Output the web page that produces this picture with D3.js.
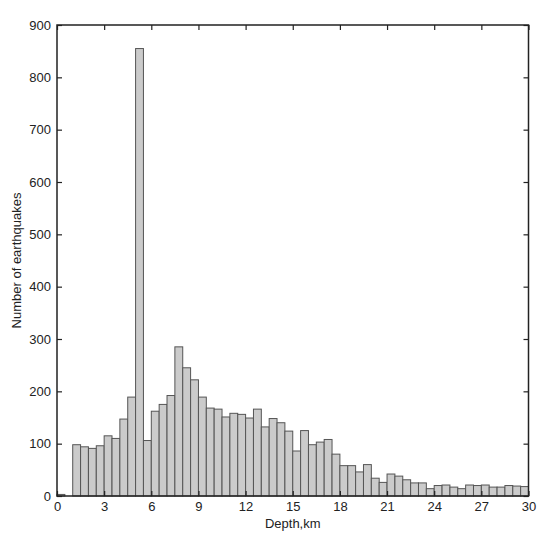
<!DOCTYPE html>
<html><head><meta charset="utf-8">
<script src="https://cdn.jsdelivr.net/npm/d3@7"></script>
<style>body{margin:0;background:#fff}svg{display:block}</style>
</head><body>
<svg id="c" width="550" height="541"></svg>
<script>
const binWidth = 0.5;
const binStarts = [0, 1.0,1.5,2.0,2.5,3.0,3.5,4.0,4.5,5.0,5.5,6.0,6.5,7.0,7.5,8.0,8.5,9.0,9.5,10.0,10.5,11.0,11.5,12.0,12.5,13.0,13.5,14.0,14.5,15.0,15.5,16.0,16.5,17.0,17.5,18.0,18.5,19.0,19.5,20.0,20.5,21.0,21.5,22.0,22.5,23.0,23.5,24.0,24.5,25.0,25.5,26.0,26.5,27.0,27.5,28.0,28.5,29.0,29.5];
const counts = [3, 98,94,91,96,115,110,147,189,855,106,162,175,192,285,245,222,189,168,166,151,158,156,149,166,132,148,140,124,86,125,98,103,108,80,58,58,46,60,34,26,42,38,31,25,25,14,20,21,17,14,21,20,21,17,17,20,19,18];
const xTicks = [0,3,6,9,12,15,18,21,24,27,30];
const yTicks = [0,100,200,300,400,500,600,700,800,900];
const xLabel = "Depth,km";
const yLabel = "Number of earthquakes";

const svg = d3.select("#c");
const L = 57, R = 528.5, T = 25, B = 496;
const x = d3.scaleLinear().domain([0,30]).range([L,R]);
const y = d3.scaleLinear().domain([0,900]).range([B,T]);
const font = "'Liberation Sans', Arial, sans-serif";

svg.append("g").selectAll("rect").data(binStarts).join("rect")
  .attr("x", d => x(d))
  .attr("width", d => x(d+binWidth) - x(d))
  .attr("y", (d,i) => y(counts[i]))
  .attr("height", (d,i) => y(0) - y(counts[i]))
  .attr("fill", "#cbcbcb")
  .attr("stroke", "#555")
  .attr("stroke-width", 1);

const tl = 5;
function styleAxis(g){
  g.selectAll(".domain").remove();
  g.selectAll(".tick line").attr("stroke","#222").attr("stroke-width",1.2);
  g.selectAll("text").attr("font-family",font).attr("font-size",13).attr("fill","#222");
}
svg.append("g").attr("transform",`translate(0,${B})`)
  .call(d3.axisBottom(x).tickValues(xTicks).tickSize(-tl).tickPadding(6).tickFormat(d3.format("d")))
  .call(styleAxis);
svg.append("g").attr("transform",`translate(0,${T})`)
  .call(d3.axisTop(x).tickValues(xTicks).tickSize(-tl).tickFormat(""))
  .call(styleAxis);
svg.append("g").attr("transform",`translate(${L},0)`)
  .call(d3.axisLeft(y).tickValues(yTicks).tickSize(-tl).tickPadding(6).tickFormat(d3.format("d")))
  .call(styleAxis);
svg.append("g").attr("transform",`translate(${R},0)`)
  .call(d3.axisRight(y).tickValues(yTicks).tickSize(-tl).tickFormat(""))
  .call(styleAxis);

svg.append("rect").attr("x",L).attr("y",T).attr("width",R-L).attr("height",B-T)
  .attr("fill","none").attr("stroke","#222").attr("stroke-width",1.5);

svg.append("text").attr("x",(L+R)/2).attr("y",528).attr("text-anchor","middle")
  .attr("font-family",font).attr("font-size",13).attr("fill","#222").text(xLabel);
svg.append("text").attr("transform",`translate(21,${(T+B)/2}) rotate(-90)`).attr("text-anchor","middle")
  .attr("font-family",font).attr("font-size",13).attr("fill","#222").text(yLabel);
</script>
</body></html>
